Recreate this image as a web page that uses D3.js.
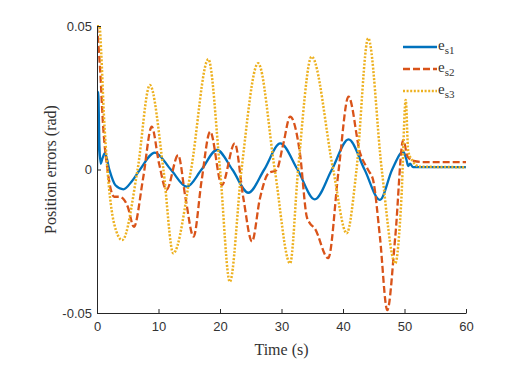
<!DOCTYPE html>
<html>
<head>
<meta charset="utf-8">
<script src="https://cdn.jsdelivr.net/npm/d3@7"></script>
<style>
  body { margin: 0; background: #fff; }
  svg { display: block; }
</style>
</head>
<body>
<script>
// values (time in s, error in rad)
var t1 = [0, 0.1, 0.2, 0.4, 0.6, 0.9, 1.3, 2.0, 3.0, 4.3, 5.7, 7.0, 9.4, 12.0, 14.6, 17.0, 19.5, 22.0, 24.6, 27.2, 29.8, 32.6, 35.4, 38.2, 40.9, 43.5, 46.0, 48.0, 49.8, 50.3, 50.6, 50.9, 51.4, 60];
var es1 = [0, 0.015, 0.027, 0.008, 0.002, 0.004, 0.0057, 0.0, -0.0055, -0.0069, -0.004, 0.0, 0.0059, 0.0, -0.006, 0.0, 0.0068, 0.0, -0.0081, 0.0, 0.0091, 0.0, -0.0104, 0.0, 0.0105, 0.0, -0.0106, 0.0, 0.0062, 0.0035, 0.0012, 0.002, 0.0008, 0.0008];

var t2 = [0, 0.5, 1.0, 1.7, 2.8, 3.6, 4.4, 5.0, 6.0, 7.5, 8.9, 10.1, 11.3, 13.2, 14.4, 15.7, 17.0, 18.4, 20.3, 22.4, 23.8, 25.2, 26.5, 27.9, 29.2, 30.3, 31.4, 33.0, 34.1, 34.6, 35.4, 37.6, 39.3, 40.9, 42.8, 44.1, 44.9, 46.0, 47.2, 48.5, 49.8, 50.5, 51.5, 53, 60];
var es2 = [0.05, 0.035, 0.015, 0.0, -0.0095, -0.0095, -0.0105, -0.013, -0.02, -0.003, 0.0149, 0.002, -0.0071, 0.005, -0.01, -0.0234, -0.004, 0.0132, -0.0054, 0.0091, -0.01, -0.0251, -0.01, -0.0013, -0.0002, 0.009, 0.0184, 0.0056, -0.0164, -0.0187, -0.0205, -0.0309, 0.0, 0.0254, 0.0056, -0.0002, -0.0037, -0.0234, -0.049, -0.0234, 0.0103, 0.0045, 0.003, 0.0026, 0.0026];

var t3 = [0, 0.4, 0.7, 1.1, 1.7, 2.8, 4.1, 6.6, 8.6, 10.8, 12.4, 15.3, 18.1, 20.0, 21.6, 23.5, 26.2, 28.9, 31.4, 32.7, 34.9, 38.4, 40.6, 42.2, 44.1, 46.3, 48.5, 49.5, 50.2, 50.6, 51.3, 52.5, 60];
var es3 = [0.05, 0.05, 0.04, 0.02, 0.0, -0.019, -0.0246, 0.0, 0.0294, 0.0, -0.0292, 0.0, 0.0384, 0.0, -0.0391, 0.0, 0.037, 0.0, -0.0327, 0.0, 0.0393, 0.0, -0.0222, 0.0, 0.0457, 0.0, -0.0327, -0.01, 0.0242, 0.0065, 0.003, 0.001, 0.0008];

var xTicks = [0, 10, 20, 30, 40, 50, 60];
var yTicks = [-0.05, 0, 0.05];
var yTickLabels = ["-0.05", "0", "0.05"];
var seriesNames = ["s1", "s2", "s3"];

var margin = { top: 26, right: 63, bottom: 53, left: 97 },
    outerWidth = 529,
    outerHeight = 366,
    width = outerWidth - margin.left - margin.right,
    height = outerHeight - margin.top - margin.bottom;

var svg = d3.select("body").append("svg").attr("width", outerWidth).attr("height", outerHeight);
var g = svg.append("g").attr("transform", "translate(" + margin.left + "," + margin.top + ")");

var x = d3.scaleLinear().domain([0, 60]).range([0, width]);
var y = d3.scaleLinear().domain([-0.05, 0.05]).range([height, 0]);

svg.append("defs").append("clipPath").attr("id", "clip")
  .append("rect").attr("y", -1).attr("width", width).attr("height", height + 1);

var series = [
  { name: seriesNames[0], t: t1, v: es1, color: "#0072BD", dash: null, w: 2.3 },
  { name: seriesNames[1], t: t2, v: es2, color: "#D95319", dash: "7,3", w: 2.3 },
  { name: seriesNames[2], t: t3, v: es3, color: "#EDB120", dash: "2,1.6", w: 2.5 }
];

var line = d3.line().x(function (d) { return x(d[0]); }).y(function (d) { return y(d[1]); }).curve(d3.curveMonotoneX);

var plot = g.append("g").attr("clip-path", "url(#clip)");
series.forEach(function (s) {
  plot.append("path")
    .datum(d3.zip(s.t, s.v))
    .attr("d", line)
    .attr("fill", "none")
    .attr("stroke", s.color)
    .attr("stroke-width", s.w)
    .attr("stroke-dasharray", s.dash);
});

// axes (MATLAB style: ticks inward, no box)
var xAxis = d3.axisBottom(x).tickValues(xTicks).tickSizeInner(-4).tickSizeOuter(0).tickPadding(9);
var yAxis = d3.axisLeft(y).tickValues(yTicks).tickSizeInner(-4).tickSizeOuter(0).tickPadding(9)
  .tickFormat(function (d, i) { return yTickLabels[i]; });

var xg = g.append("g").attr("transform", "translate(0," + height + ")").call(xAxis);
var yg = g.append("g").call(yAxis);
[xg, yg].forEach(function (a) {
  a.attr("font-family", null).attr("font-size", null);
  a.select(".domain").attr("stroke", "#262626").attr("stroke-width", 1);
  a.selectAll(".tick line").attr("stroke", "#262626");
  a.selectAll(".tick text").attr("fill", "#333")
    .style("font-family", "'Liberation Sans', Arial, Helvetica, sans-serif").style("font-size", "13px");
});
yg.selectAll(".tick text").attr("x", -5);

svg.append("text")
  .attr("x", margin.left + width / 2).attr("y", 355)
  .attr("text-anchor", "middle")
  .style("font-family", "'Liberation Serif', 'Times New Roman', serif").style("font-size", "16px").attr("fill", "#333")
  .text("Time (s)");

svg.append("text")
  .attr("transform", "translate(56," + (margin.top + height / 2) + ") rotate(-90)")
  .attr("text-anchor", "middle")
  .style("font-family", "'Liberation Serif', 'Times New Roman', serif").style("font-size", "16px").attr("fill", "#333")
  .text("Position errors (rad)");

// legend
var legend = svg.append("g").attr("transform", "translate(403,47)");
series.forEach(function (s, i) {
  var row = legend.append("g").attr("transform", "translate(0," + (i * 22) + ")");
  row.append("line").attr("x1", 0).attr("x2", 34).attr("y1", 0).attr("y2", 0)
    .attr("stroke", s.color).attr("stroke-width", s.w).attr("stroke-dasharray", s.dash);
  var txt = row.append("text").attr("x", 35).attr("y", 3)
    .style("font-family", "'Liberation Serif', 'Times New Roman', serif").attr("fill", "#333");
  txt.append("tspan").style("font-size", "15px").text("e");
  txt.append("tspan").attr("dy", 4).style("font-size", "11px").text(s.name);
});
</script>
</body>
</html>
